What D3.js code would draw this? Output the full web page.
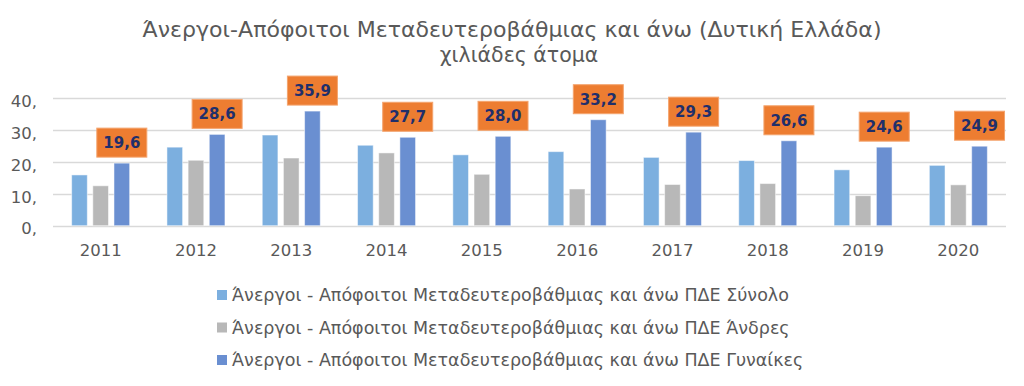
<!DOCTYPE html>
<html>
<head>
<meta charset="utf-8">
<script src="https://cdn.jsdelivr.net/npm/d3@7"></script>
<style>
  body { margin: 0; background: #fff; }
  svg text { font-family: "DejaVu Sans", sans-serif; }
</style>
</head>
<body>
<svg id="chart" width="1024" height="386"></svg>
<script>
// Data
var years = ["2011","2012","2013","2014","2015","2016","2017","2018","2019","2020"];
var total = [15.9, 24.6, 28.4, 25.2, 22.2, 23.2, 21.4, 20.4, 17.5, 18.9];
var men = [12.5, 20.5, 21.2, 22.8, 16.1, 11.5, 12.9, 13.2, 9.4, 12.8];
var women = [19.6, 28.6, 35.9, 27.7, 28.0, 33.2, 29.3, 26.6, 24.6, 24.9];
var seriesNames = [
  "Άνεργοι - Απόφοιτοι Μεταδευτεροβάθμιας και άνω ΠΔΕ Σύνολο",
  "Άνεργοι - Απόφοιτοι Μεταδευτεροβάθμιας και άνω ΠΔΕ Άνδρες",
  "Άνεργοι - Απόφοιτοι Μεταδευτεροβάθμιας και άνω ΠΔΕ Γυναίκες"
];
var seriesColors = ["#7cafdf", "#b8b8b8", "#6a8fd1"];
var yTicks = [0, 10, 20, 30, 40];
var yTickLabels = ["0,", "10,", "20,", "30,", "40,"];

var svg = d3.select("#chart");

var x = d3.scaleBand().domain(years).range([53, 1006]).paddingInner(0).paddingOuter(0);
var y = d3.scaleLinear().domain([0, 40]).range([225.7, 98]);
var sub = d3.scaleBand().domain([0, 1, 2]).range([-29, 29]).paddingInner(0.26);

// Title
svg.append("text").attr("x", 512).attr("y", 37).attr("text-anchor", "middle")
  .attr("fill", "#595959").style("font-size", "20.5px")
  .attr("textLength", 739).attr("lengthAdjust", "spacingAndGlyphs")
  .text("Άνεργοι-Απόφοιτοι Μεταδευτεροβάθμιας και άνω (Δυτική Ελλάδα)");
svg.append("text").attr("x", 519).attr("y", 62).attr("text-anchor", "middle")
  .attr("fill", "#595959").style("font-size", "20.5px")
  .text("χιλιάδες άτομα");

// Gridlines
svg.append("g").selectAll("line").data(yTicks).enter().append("line")
  .attr("x1", 53).attr("x2", 1006)
  .attr("y1", function(d) { return Math.round(y(d)) + 0.5; })
  .attr("y2", function(d) { return Math.round(y(d)) + 0.5; })
  .attr("stroke", "#d9d9d9").attr("stroke-width", 1.3);

// Y axis labels
var yAxis = d3.axisLeft(y).tickValues(yTicks)
  .tickFormat(function(d, i) { return yTickLabels[i]; }).tickSize(0).tickPadding(0);
var yg = svg.append("g").attr("transform", "translate(37,3)").call(yAxis);
yg.select(".domain").remove();
yg.selectAll("text").attr("fill", "#595959").style("font-size", "16.5px")
  .style("font-family", "DejaVu Sans, sans-serif").attr("dy", "0.32em");

// X axis labels
var xAxis = d3.axisBottom(x).tickSize(0).tickPadding(0);
var xg = svg.append("g").attr("transform", "translate(0,251)").call(xAxis);
xg.select(".domain").remove();
xg.selectAll("text").attr("fill", "#595959").style("font-size", "16.5px")
  .style("font-family", "DejaVu Sans, sans-serif").attr("dy", "0.32em");

// Bars
var series = [total, men, women];
series.forEach(function(vals, s) {
  svg.append("g").selectAll("rect").data(vals).enter().append("rect")
    .attr("x", function(d, i) { return x(years[i]) + x.bandwidth() / 2 + sub(s); })
    .attr("width", sub.bandwidth())
    .attr("y", function(d) { return y(d); })
    .attr("height", function(d) { return y(0) - y(d); })
    .attr("fill", seriesColors[s])
    .attr("stroke", "#ffffff").attr("stroke-opacity", 0.5).attr("stroke-width", 1);
});

// Data labels on women series
var fmt = function(v) { return v.toFixed(1).replace(".", ","); };
var lab = svg.append("g").selectAll("g").data(women).enter().append("g")
  .attr("transform", function(d, i) {
    var cx = x(years[i]) + x.bandwidth() / 2 + sub(2) + sub.bandwidth() / 2;
    return "translate(" + cx + "," + (y(d) - 6) + ")";
  });
lab.append("rect").attr("x", -25).attr("y", -29).attr("width", 50).attr("height", 29)
  .attr("fill", "#ed7d31").attr("stroke", "#f4a46e").attr("stroke-width", 1);
lab.append("text").attr("x", 0).attr("y", -9).attr("text-anchor", "middle")
  .attr("fill", "#1f2f6b").style("font-size", "15px").style("font-weight", "bold")
  .text(fmt);

// Legend
var leg = svg.append("g").selectAll("g").data(seriesNames).enter().append("g")
  .attr("transform", function(d, i) { return "translate(217," + (295 + i * 32.5) + ")"; });
leg.append("rect").attr("x", 0).attr("y", -5).attr("width", 10).attr("height", 10)
  .attr("fill", function(d, i) { return seriesColors[i]; });
leg.append("text").attr("x", 15).attr("y", 0).attr("dy", "0.35em")
  .attr("fill", "#595959").style("font-size", "17.5px")
  .text(function(d) { return d; });
</script>
</body>
</html>
